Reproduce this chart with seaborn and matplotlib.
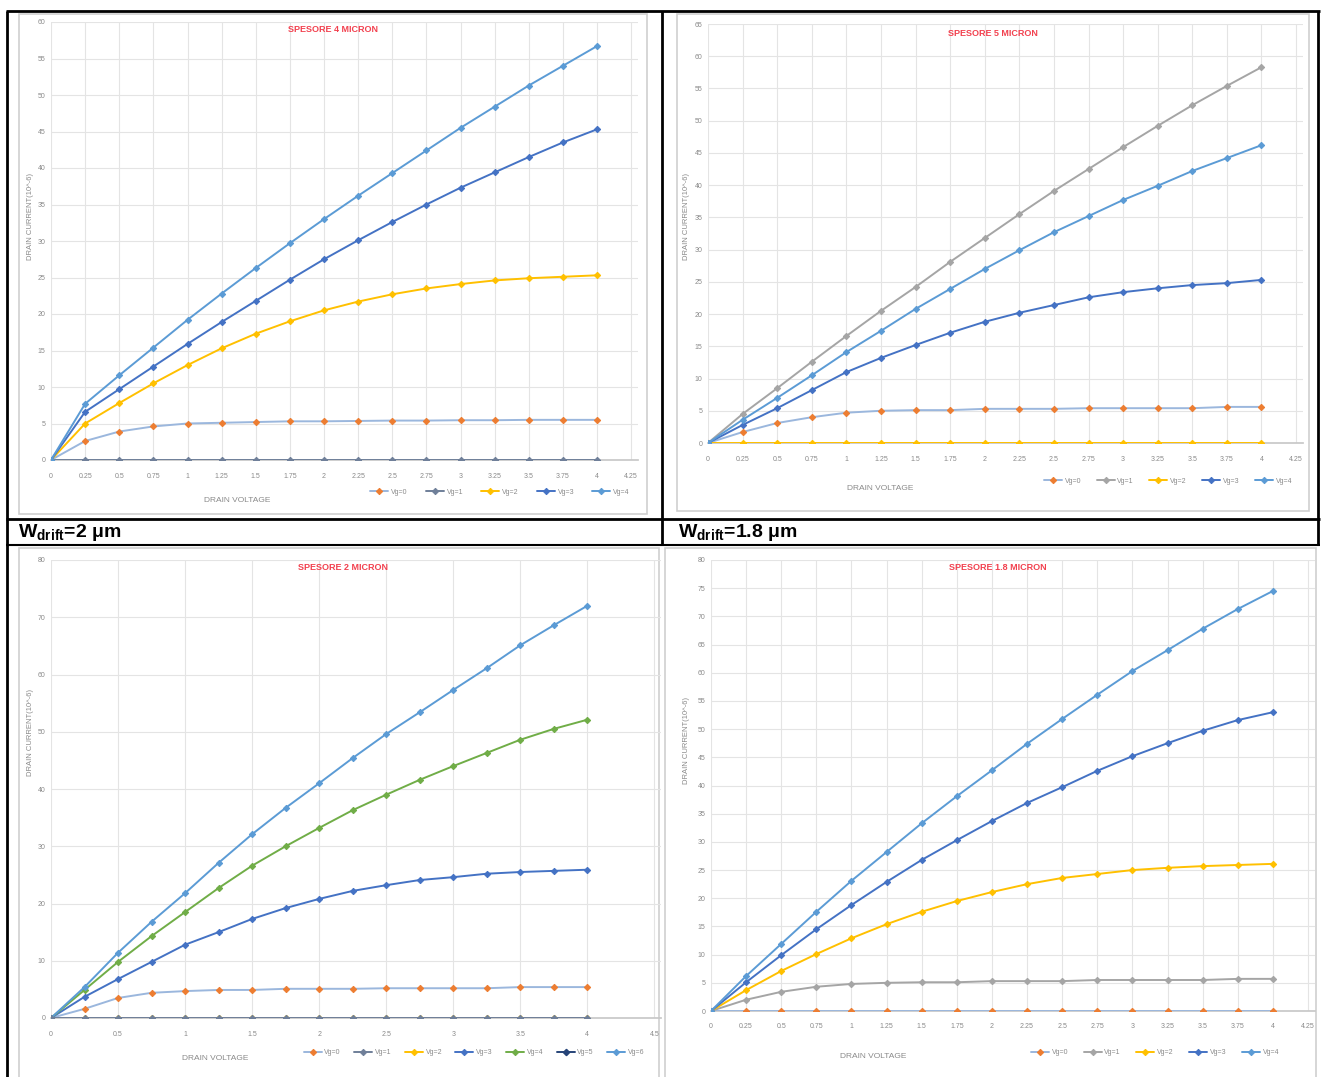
import matplotlib
matplotlib.use("Agg")
import matplotlib.pyplot as plt
import seaborn as sns
from matplotlib.lines import Line2D
from matplotlib.patches import Rectangle

# ---------------- data ----------------
VD = [0, 0.25, 0.5, 0.75, 1.0, 1.25, 1.5, 1.75, 2.0, 2.25, 2.5, 2.75, 3.0, 3.25, 3.5, 3.75, 4.0]
LABELS_5 = ["Vg=0", "Vg=1", "Vg=2", "Vg=3", "Vg=4"]
LABELS_7 = ["Vg=0", "Vg=1", "Vg=2", "Vg=3", "Vg=4", "Vg=5", "Vg=6"]

# thickness 4 micron
A_VG0 = [0, 2.6, 3.9, 4.6, 5.0, 5.1, 5.2, 5.3, 5.3, 5.35, 5.4, 5.4, 5.45, 5.45, 5.5, 5.5, 5.5]
A_VG1 = [0] * 17
A_VG2 = [0, 5.0, 7.8, 10.5, 13.0, 15.3, 17.3, 19.0, 20.5, 21.7, 22.7, 23.5, 24.1, 24.6, 24.9, 25.1, 25.3]
A_VG3 = [0, 6.6, 9.7, 12.8, 15.9, 18.9, 21.8, 24.7, 27.5, 30.1, 32.6, 35.0, 37.3, 39.4, 41.5, 43.5, 45.3]
A_VG4 = [0, 7.7, 11.6, 15.4, 19.2, 22.8, 26.3, 29.7, 33.0, 36.2, 39.3, 42.4, 45.5, 48.4, 51.3, 54.0, 56.7]

# thickness 5 micron
B_VG0 = [0, 1.7, 3.1, 4.0, 4.7, 5.0, 5.1, 5.1, 5.3, 5.3, 5.3, 5.4, 5.4, 5.4, 5.4, 5.6, 5.6]
B_VG1 = [0, 4.5, 8.5, 12.6, 16.6, 20.5, 24.2, 28.1, 31.8, 35.5, 39.1, 42.5, 45.9, 49.2, 52.4, 55.4, 58.3]
B_VG2 = [0] * 17
B_VG3 = [0, 2.8, 5.4, 8.2, 11.0, 13.2, 15.2, 17.1, 18.8, 20.2, 21.4, 22.6, 23.4, 24.0, 24.5, 24.8, 25.3]
B_VG4 = [0, 3.6, 7.0, 10.5, 14.1, 17.4, 20.8, 23.9, 27.0, 29.9, 32.7, 35.2, 37.7, 39.9, 42.2, 44.2, 46.2]

# thickness 2 micron
C_VG0 = [0, 1.6, 3.5, 4.4, 4.7, 4.9, 4.9, 5.1, 5.1, 5.1, 5.2, 5.2, 5.2, 5.2, 5.4, 5.4, 5.4]
C_VG1 = [0] * 17
C_VG2 = [0] * 17
C_VG3 = [0, 3.7, 6.8, 9.8, 12.8, 15.0, 17.3, 19.2, 20.8, 22.2, 23.2, 24.1, 24.6, 25.2, 25.5, 25.7, 25.9]
C_VG4 = [0, 4.9, 9.8, 14.3, 18.5, 22.7, 26.6, 30.0, 33.2, 36.3, 39.0, 41.6, 44.0, 46.3, 48.6, 50.5, 52.1]
C_VG6 = [0, 5.4, 11.4, 16.8, 21.8, 27.1, 32.1, 36.7, 41.0, 45.4, 49.6, 53.4, 57.3, 61.1, 65.1, 68.6, 72.0]

# thickness 1.8 micron
D_VG0 = [0] * 17
D_VG1 = [0, 2.0, 3.4, 4.3, 4.8, 5.0, 5.1, 5.1, 5.3, 5.3, 5.3, 5.5, 5.5, 5.5, 5.5, 5.7, 5.7]
D_VG2 = [0, 3.7, 7.1, 10.1, 12.9, 15.4, 17.6, 19.5, 21.1, 22.5, 23.6, 24.3, 25.0, 25.4, 25.7, 25.9, 26.1]
D_VG3 = [0, 5.1, 9.9, 14.5, 18.8, 22.9, 26.8, 30.3, 33.7, 36.9, 39.7, 42.6, 45.2, 47.5, 49.7, 51.6, 53.0]
D_VG4 = [0, 6.2, 11.9, 17.6, 23.1, 28.2, 33.3, 38.1, 42.7, 47.4, 51.8, 56.1, 60.3, 64.0, 67.8, 71.3, 74.5]

TITLES = ["SPESORE 4 MICRON", "SPESORE 5 MICRON", "SPESORE 2 MICRON", "SPESORE 1.8 MICRON"]
CAPTIONS = [r"W$_{\mathrm{drift}}$=2 μm", r"W$_{\mathrm{drift}}$=1.8 μm"]

# ---------------- style ----------------
sns.set_theme(style="white")
plt.rcParams["font.family"] = ["Liberation Sans", "DejaVu Sans"]
plt.rcParams["mathtext.fontset"] = "custom"
plt.rcParams["mathtext.rm"] = "Liberation Sans:bold"
plt.rcParams["mathtext.it"] = "Liberation Sans:bold"
plt.rcParams["mathtext.bf"] = "Liberation Sans:bold"

W, H = 1323, 1077
fig = plt.figure(figsize=(W / 100, H / 100), dpi=100)
fig.patch.set_facecolor("white")

LB = "#9bb7dd"      # light steel line
ORG = "#ED7D31"
GREY = "#a5a5a5"
SLATE = "#6f7f99"
GOLD = "#FFC000"
BLUE = "#4472C4"
SKY = "#5B9BD5"
GREEN = "#70AD47"
NAVY = "#264478"
TXT = "#8a8a8a"


def fx(px):
    return px / W


def fy(py):
    return 1 - py / H


def axes_px(left, right, top, bottom):
    return fig.add_axes([fx(left), fy(bottom), (right - left) / W, (bottom - top) / H])


def frame(x0, y0, x1, y1):
    fig.patches.append(Rectangle((fx(x0), fy(y1)), (x1 - x0) / W, (y1 - y0) / H,
                                 transform=fig.transFigure, facecolor="white",
                                 edgecolor="#cfcfcf", lw=1.2, zorder=-10))


def tick_fmt(v):
    return "{:g}".format(v)


def panel(ax, series, xmax, ymax, xstep, ystep, title, tpos, xlpos, ylpos, legpos,
          legend_extra=None, colsp=2.6):
    for name, vals, col, mcol, z in series:
        sns.lineplot(x=VD, y=vals, ax=ax, color=col, marker="D", markersize=3.2,
                     markerfacecolor=mcol, markeredgecolor=mcol, linewidth=1.4,
                     label=name, legend=False, zorder=z)
    ax.set_xlim(0, xmax)
    ax.set_ylim(0, ymax)
    xt = [i * xstep for i in range(int(round(xmax / xstep)) + 1)]
    yt = [i * ystep for i in range(int(round(ymax / ystep)) + 1)]
    ax.set_xticks(xt)
    ax.set_xticklabels([tick_fmt(v) for v in xt])
    ax.set_yticks(yt)
    ax.set_yticklabels([tick_fmt(v) for v in yt])
    ax.grid(True, color="#e4e4e4", lw=0.8)
    ax.set_axisbelow(True)
    for s in ["top", "right", "left"]:
        ax.spines[s].set_visible(False)
    ax.spines["bottom"].set_color("#c8c8c8")
    ax.tick_params(axis="x", length=0, labelsize=5, colors=TXT, pad=9)
    ax.tick_params(axis="y", length=0, labelsize=5, colors=TXT, pad=4)
    ax.set_xlabel("")
    ax.set_ylabel("")
    ax.set_facecolor("none")
    ax.set_zorder(2)
    fig.text(fx(tpos[0]), fy(tpos[1]), title, color="#f2414f", fontsize=6.5,
             fontweight="bold", ha="center", va="center",
             family=["Liberation Sans Narrow", "Liberation Sans"])
    fig.text(fx(xlpos[0]), fy(xlpos[1]), "DRAIN VOLTAGE", color=TXT, fontsize=6,
             ha="center", va="center", family=["Liberation Sans Narrow", "Liberation Sans"])
    fig.text(fx(ylpos[0]), fy(ylpos[1]), "DRAIN CURRENT(10^-6)", color=TXT, fontsize=5.5,
             ha="center", va="center", rotation=90)
    handles = list(ax.get_lines())
    if legend_extra is not None:
        idx, h = legend_extra
        handles.insert(idx, h)
    labels = [h.get_label() for h in handles]
    ax.legend(handles, labels, loc="center", bbox_to_anchor=(fx(legpos[0]), fy(legpos[1])),
              bbox_transform=fig.transFigure, ncol=len(handles), fontsize=5,
              frameon=False, handlelength=2.6, columnspacing=colsp, handletextpad=0.4,
              labelcolor=TXT)


# chart backgrounds
frame(19, 14, 647, 514)
frame(677, 14, 1309, 511)
frame(19, 548, 659, 1082)
frame(665, 548, 1316, 1082)

# top-left
ax1 = axes_px(51, 638, 22, 460)
panel(ax1,
      [(LABELS_5[0], A_VG0, LB, ORG, 3), (LABELS_5[1], A_VG1, SLATE, SLATE, 3),
       (LABELS_5[2], A_VG2, GOLD, GOLD, 3), (LABELS_5[3], A_VG3, BLUE, BLUE, 3),
       (LABELS_5[4], A_VG4, SKY, SKY, 3)],
      4.3, 60, 0.25, 5, TITLES[0], (333, 30), (237, 500), (31, 216), (500, 492))

# top-right
ax2 = axes_px(708, 1303, 24, 443)
panel(ax2,
      [(LABELS_5[0], B_VG0, LB, ORG, 3), (LABELS_5[1], B_VG1, GREY, GREY, 3),
       (LABELS_5[2], B_VG2, GOLD, GOLD, 3), (LABELS_5[3], B_VG3, BLUE, BLUE, 3),
       (LABELS_5[4], B_VG4, SKY, SKY, 3)],
      4.3, 65, 0.25, 5, TITLES[1], (993, 33), (880, 488), (686, 216), (1168, 481),
      colsp=2.2)

# bottom-left
ax3 = axes_px(51, 661, 560, 1018)
navy_handle = Line2D([], [], color=NAVY, marker="D", markersize=3.2, lw=1.4, label=LABELS_7[5])
panel(ax3,
      [(LABELS_7[0], C_VG0, LB, ORG, 3), (LABELS_7[1], C_VG1, SLATE, SLATE, 4),
       (LABELS_7[2], C_VG2, GOLD, GOLD, 2), (LABELS_7[3], C_VG3, BLUE, BLUE, 3),
       (LABELS_7[4], C_VG4, GREEN, GREEN, 3), (LABELS_7[6], C_VG6, SKY, SKY, 3)],
      4.55, 80, 0.5, 10, TITLES[2], (343, 567), (215, 1058), (31, 733), (474, 1053),
      legend_extra=(5, navy_handle), colsp=1.9)

# bottom-right
ax4 = axes_px(711, 1315, 560, 1011)
panel(ax4,
      [(LABELS_5[0], D_VG0, LB, ORG, 3), (LABELS_5[1], D_VG1, GREY, GREY, 3),
       (LABELS_5[2], D_VG2, GOLD, GOLD, 3), (LABELS_5[3], D_VG3, BLUE, BLUE, 3),
       (LABELS_5[4], D_VG4, SKY, SKY, 3)],
      4.3, 80, 0.25, 5, TITLES[3], (998, 567), (873, 1057), (686, 741), (1155, 1053),
      colsp=2.2)


# table rules
def rule(x0, y0, x1, y1, lw=2.0):
    fig.add_artist(Line2D([fx(x0), fx(x1)], [fy(y0), fy(y1)], transform=fig.transFigure,
                          color="black", lw=lw, solid_capstyle="butt", zorder=5))


rule(6, 11, 1320, 11)
rule(7, 11, 7, 1077)
rule(1318, 11, 1318, 545)
rule(662, 11, 662, 545)
rule(6, 519, 1320, 519)
rule(6, 545, 1320, 545, lw=1.5)

fig.text(fx(18), fy(533), CAPTIONS[0], fontsize=14, fontweight="bold", va="center",
         ha="left", color="black")
fig.text(fx(678), fy(533), CAPTIONS[1], fontsize=14, fontweight="bold", va="center",
         ha="left", color="black")

fig.savefig("out.png", dpi=100)
